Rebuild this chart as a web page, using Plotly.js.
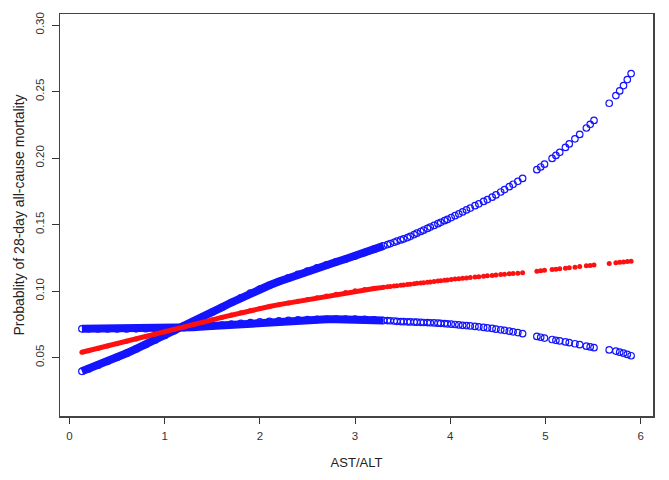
<!DOCTYPE html>
<html>
<head>
<meta charset="utf-8">
<script src="https://cdn.plot.ly/plotly-3.0.1.min.js"></script>
<style>
  body { margin: 0; background: #fff; }
  #plot { width: 669px; height: 480px; }
</style>
</head>
<body>
<div id="plot"></div>
<script>
// AST/ALT values where the observations sit (dense part, then sparse tail)
var ast_alt_dense = [0.13, 0.2, 0.3, 0.4, 0.5, 0.6, 0.7, 0.8, 0.9, 1.0,
  1.1, 1.2, 1.3, 1.4, 1.5, 1.6, 1.7, 1.8, 1.9, 2.0,
  2.1, 2.2, 2.3, 2.4, 2.5, 2.6, 2.7, 2.8, 2.9, 3.0,
  3.1, 3.2, 3.3];
var ast_alt_sparse = [3.34, 3.37, 3.41, 3.44, 3.48, 3.51, 3.55, 3.58, 3.62, 3.65,
  3.69, 3.72, 3.76, 3.79, 3.83, 3.87, 3.9, 3.94, 3.97, 4.01,
  4.05, 4.09, 4.13, 4.17, 4.21, 4.26, 4.3, 4.35, 4.39, 4.44,
  4.48, 4.53, 4.57, 4.62, 4.66, 4.71, 4.76,
  4.91, 4.95, 4.99, 5.07, 5.11, 5.15, 5.21, 5.25, 5.31, 5.36,
  5.43, 5.47, 5.51, 5.67, 5.74, 5.78, 5.82, 5.86, 5.9];

// predicted probability (red)
var prob_dense = [0.0540, 0.0552, 0.0569, 0.0587, 0.0604, 0.0622, 0.0640, 0.0657, 0.0675, 0.0693,
  0.0711, 0.0729, 0.0747, 0.0765, 0.0784, 0.0802, 0.0820, 0.0838, 0.0855, 0.0870,
  0.0884, 0.0898, 0.0911, 0.0924, 0.0937, 0.0950, 0.0963, 0.0977, 0.0990, 0.1003,
  0.1012, 0.1020, 0.1028];
var prob_sparse = [0.1032, 0.1034, 0.1038, 0.1040, 0.1043, 0.1046, 0.1049, 0.1052, 0.1055, 0.1058,
  0.1061, 0.1063, 0.1067, 0.1069, 0.1073, 0.1076, 0.1078, 0.1082, 0.1084, 0.1088,
  0.1091, 0.1093, 0.1096, 0.1099, 0.1102, 0.1105, 0.1108, 0.1112, 0.1115, 0.1118,
  0.1121, 0.1124, 0.1127, 0.1130, 0.1132, 0.1135, 0.1138,
  0.1150, 0.1153, 0.1156, 0.1162, 0.1165, 0.1168, 0.1172, 0.1175, 0.1180, 0.1184,
  0.1190, 0.1193, 0.1196, 0.1208, 0.1213, 0.1216, 0.1219, 0.1222, 0.1225];

// confidence band, rising branch (blue)
var ci_rise_dense = [0.0397, 0.0415, 0.0443, 0.0472, 0.0502, 0.0533, 0.0565, 0.0598, 0.0632, 0.0667,
  0.0702, 0.0736, 0.0771, 0.0807, 0.0842, 0.0878, 0.0914, 0.0950, 0.0985, 0.1015,
  0.1044, 0.1072, 0.1099, 0.1125, 0.1150, 0.1174, 0.1197, 0.1219, 0.1241, 0.1263,
  0.1289, 0.1315, 0.1340];
var ci_rise_sparse = [0.1350, 0.1357, 0.1367, 0.1375, 0.1385, 0.1392, 0.1402, 0.1412, 0.1425, 0.1435,
  0.1448, 0.1458, 0.1471, 0.1481, 0.1494, 0.1507, 0.1517, 0.1529, 0.1539, 0.1553,
  0.1567, 0.1581, 0.1595, 0.1610, 0.1624, 0.1642, 0.1656, 0.1674, 0.1688, 0.1706,
  0.1723, 0.1745, 0.1763, 0.1785, 0.1803, 0.1825, 0.1847,
  0.1913, 0.1933, 0.1954, 0.1997, 0.2020, 0.2043, 0.2080, 0.2106, 0.2145, 0.2178,
  0.2226, 0.2254, 0.2283, 0.2412, 0.2470, 0.2505, 0.2545, 0.2590, 0.2635];

// confidence band, flat branch (blue)
var ci_flat_dense = [0.0716, 0.0716, 0.0715, 0.0715, 0.0715, 0.0715, 0.0716, 0.0717, 0.0718, 0.0720,
  0.0722, 0.0725, 0.0729, 0.0734, 0.0739, 0.0745, 0.0751, 0.0757, 0.0763, 0.0768,
  0.0772, 0.0776, 0.0780, 0.0783, 0.0785, 0.0787, 0.0788, 0.0789, 0.0789, 0.0789,
  0.0787, 0.0783, 0.0779];
var ci_flat_sparse = [0.0778, 0.0777, 0.0775, 0.0773, 0.0771, 0.0770, 0.0769, 0.0768, 0.0767, 0.0766,
  0.0765, 0.0764, 0.0763, 0.0762, 0.0761, 0.0759, 0.0758, 0.0756, 0.0754, 0.0751,
  0.0749, 0.0746, 0.0743, 0.0741, 0.0738, 0.0734, 0.0731, 0.0727, 0.0723, 0.0719,
  0.0714, 0.0709, 0.0705, 0.0699, 0.0694, 0.0688, 0.0680,
  0.0659, 0.0653, 0.0647, 0.0636, 0.0630, 0.0625, 0.0618, 0.0612, 0.0604, 0.0597,
  0.0586, 0.0580, 0.0575, 0.0558, 0.0549, 0.0541, 0.0533, 0.0524, 0.0514];

var y_ticks = [0.05, 0.10, 0.15, 0.20, 0.25, 0.30];
var x_ticks = [0, 1, 2, 3, 4, 5, 6];

var blue = '#1414ff';
var red = '#ff1010';
var ast_alt_all = ast_alt_dense.concat(ast_alt_sparse);

function band(y, color, w) {
  return { x: ast_alt_dense, y: y, mode: 'lines', line: { color: color, width: w }, hoverinfo: 'skip' };
}
function ring(y) {
  return { x: ast_alt_all, y: y, mode: 'markers',
    marker: { symbol: 'circle-open', size: 6.5, color: blue, line: { width: 1.2, color: blue } } };
}

var data = [
  band(ci_rise_dense, blue, 8),
  band(ci_flat_dense, blue, 8),
  ring(ci_rise_dense.concat(ci_rise_sparse)),
  ring(ci_flat_dense.concat(ci_flat_sparse)),
  band(prob_dense, red, 5),
  { x: ast_alt_all, y: prob_dense.concat(prob_sparse), mode: 'markers',
    marker: { symbol: 'circle', size: 5, color: red } }
];

var tickFont = { family: 'Liberation Sans, Arial, sans-serif', size: 11.5, color: '#333' };

var layout = {
  width: 669,
  height: 480,
  margin: { l: 60, r: 16, t: 14, b: 64 },
  showlegend: false,
  paper_bgcolor: '#fff',
  plot_bgcolor: '#fff',
  font: { family: 'Liberation Sans, Arial, sans-serif', color: '#222' },
  xaxis: {
    range: [-0.1, 6.13],
    tickvals: x_ticks,
    ticks: 'outside',
    ticklen: 6,
    tickcolor: '#333',
    tickfont: tickFont,
    ticklabelstandoff: 3,
    showline: true,
    mirror: true,
    linecolor: '#444',
    linewidth: 1.5,
    showgrid: false,
    zeroline: false,
    title: { text: 'AST/ALT', font: { size: 13, color: '#222' }, standoff: 16 }
  },
  yaxis: {
    range: [0.0061, 0.3083],
    tickvals: y_ticks,
    tickformat: '.2f',
    tickangle: -90,
    ticks: 'outside',
    ticklen: 7,
    tickcolor: '#333',
    tickfont: tickFont,
    ticklabelstandoff: 3,
    showline: true,
    mirror: true,
    linecolor: '#444',
    linewidth: 1.5,
    showgrid: false,
    zeroline: false,
    title: { text: 'Probablity of 28-day all-cause mortality', font: { size: 14, color: '#222' }, standoff: 6 }
  }
};

Plotly.newPlot('plot', data, layout, { displayModeBar: false, staticPlot: true });
</script>
</body>
</html>
